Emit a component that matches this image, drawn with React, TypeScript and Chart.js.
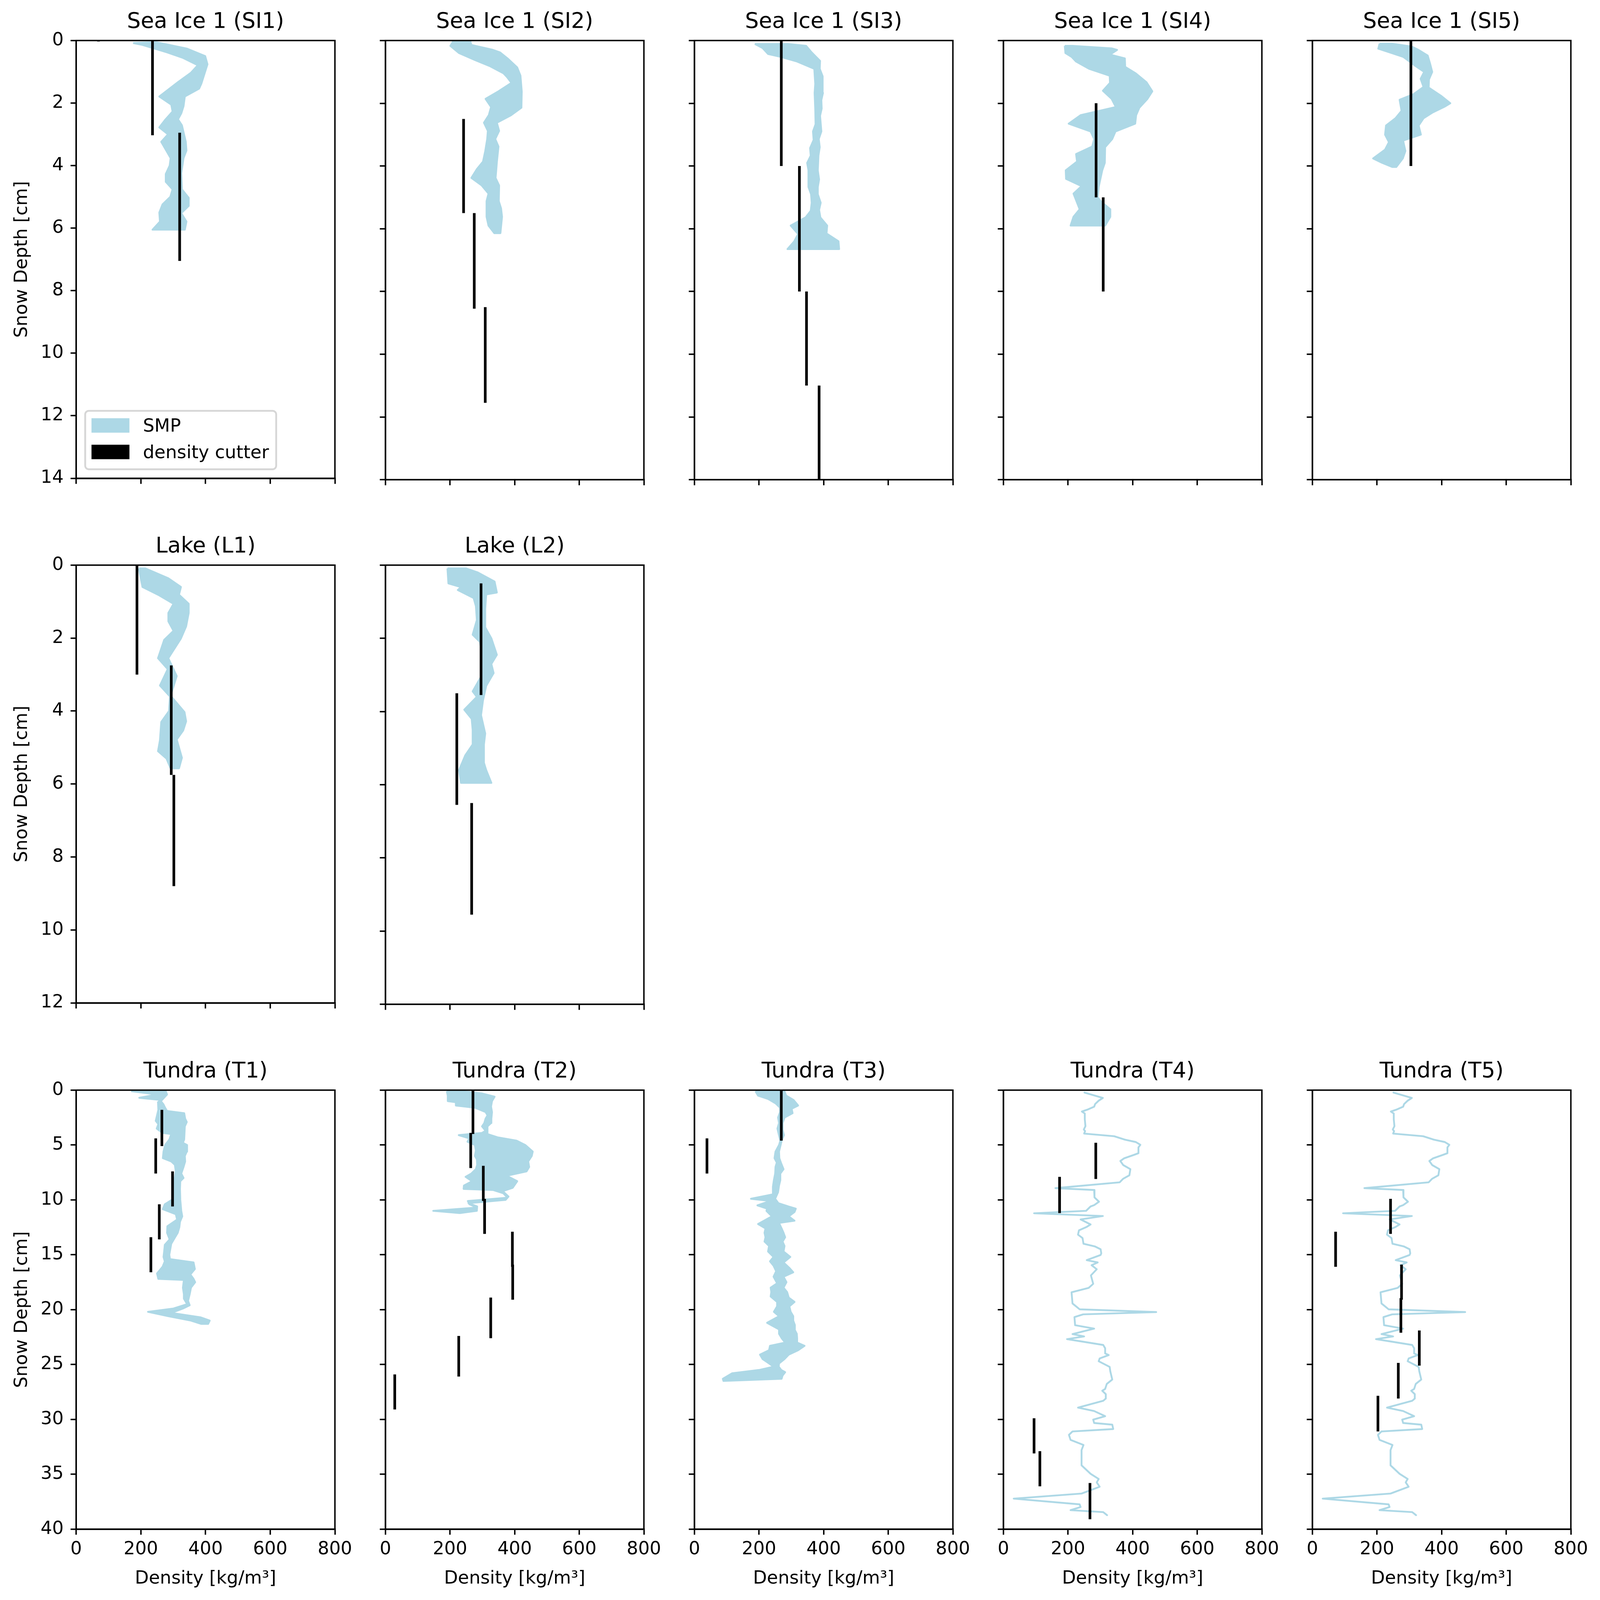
import React, { useEffect, useRef } from "react";
import { Chart, registerables } from "chart.js";

Chart.register(...registerables);

// ---------------- data (depth [cm], density [kg/m3]) ----------------
// SMP envelope: left (min) and right (max) edges
const SI1_MIN = [[0.08,176],[0.14,205],[0.38,281],[0.55,329],[0.79,376],[1.03,355],[1.33,315],[1.79,257],[2.05,294],[2.27,298],[2.55,274],[2.78,257],[3.0,284],[3.24,263],[3.76,292],[4.0,289],[4.27,277],[4.52,277],[4.76,298],[5.0,291],[5.24,267],[5.5,257],[5.79,259],[6.05,236]];
const SI1_MAX = [[0.05,246],[0.26,343],[0.5,399],[0.76,406],[1.38,387],[1.54,380],[1.79,336],[2.1,332],[2.33,325],[2.52,315],[2.71,327],[3.24,339],[3.52,341],[3.76,332],[4.24,325],[4.76,327],[5.03,348],[5.29,348],[5.52,325],[5.79,341],[6.05,336]];
const SI1_CUT = [[69,0,0.03],[236,0,3.03],[320,2.95,7.05]];

const SI2_MIN = [[0.02,210],[0.17,201],[0.4,228],[0.62,277],[0.81,322],[1.05,366],[1.16,376],[1.35,390],[1.62,350],[1.86,310],[2.12,327],[2.38,320],[2.62,305],[2.88,317],[3.14,315],[3.52,309],[3.86,302],[4.1,283],[4.38,266],[4.62,298],[4.88,319],[5.12,313],[5.62,313],[5.9,319],[6.14,337]];
const SI2_MAX = [[0.02,263],[0.14,266],[0.29,330],[0.38,355],[0.57,378],[0.86,408],[1.12,418],[1.62,422],[2.14,421],[2.38,389],[2.62,345],[2.88,352],[3.14,340],[3.38,350],[3.88,345],[4.14,343],[4.38,341],[4.62,352],[5.12,351],[5.35,358],[5.62,361],[6.14,356]];
const SI2_CUT = [[242,2.5,5.5],[275,5.5,8.55],[309,8.5,11.55]];

const SI3_MIN = [[0.11,187],[0.24,211],[0.43,228],[0.52,267],[0.67,318],[0.9,371],[1.38,374],[1.67,372],[2.19,374],[2.67,375],[2.9,367],[3.17,369],[3.43,358],[3.67,360],[3.9,349],[4.14,353],[4.67,353],[4.9,361],[5.17,363],[5.43,360],[5.64,344],[5.9,298],[6.17,321],[6.4,309],[6.65,288]];
const SI3_MAX = [[0.11,290],[0.17,346],[0.38,363],[0.65,389],[0.9,388],[1.14,397],[1.67,398],[1.9,393],[2.17,394],[2.4,389],[2.9,393],[3.14,385],[3.4,388],[3.67,384],[4.14,382],[4.43,386],[4.67,382],[4.9,382],[5.17,391],[5.4,386],[5.64,390],[5.9,411],[6.15,409],[6.4,446],[6.65,448]];
const SI3_CUT = [[269,0,4],[325,4,8],[347,8,11],[386,11,14]];

const SI4_MIN = [[0.17,190],[0.4,192],[0.52,211],[0.67,225],[0.9,265],[1.12,329],[1.35,330],[1.6,308],[1.86,335],[2.12,348],[2.38,239],[2.65,202],[2.9,270],[3.14,281],[3.38,275],[3.62,225],[3.86,228],[4.14,193],[4.41,194],[4.64,242],[4.88,217],[5.38,236],[5.62,217],[5.9,208]];
const SI4_MAX = [[0.17,214],[0.25,335],[0.3,352],[0.45,330],[0.57,376],[0.84,377],[1.05,410],[1.33,443],[1.62,461],[1.86,446],[2.14,421],[2.38,411],[2.65,408],[2.9,347],[3.14,337],[3.4,315],[3.9,314],[4.14,306],[4.67,295],[5.0,292],[5.14,303],[5.38,331],[5.62,331],[5.9,315]];
const SI4_CUT = [[287,2,5],[309,5,8]];

const SI5_MIN = [[0.1,208],[0.26,204],[0.38,240],[0.52,281],[0.67,301],[0.81,319],[1.0,346],[1.22,335],[1.48,344],[1.71,313],[1.89,270],[2.24,276],[2.48,257],[2.71,228],[3.0,225],[3.24,237],[3.48,225],[3.76,188],[3.9,216],[4.03,247]];
const SI5_MAX = [[0.1,246],[0.19,307],[0.29,327],[0.48,357],[0.76,365],[1.0,371],[1.24,361],[1.5,360],[1.76,398],[2.0,427],[2.11,409],[2.29,373],[2.48,344],[2.71,329],[3.0,336],[3.19,281],[3.52,288],[3.76,280],[4.03,260]];
const SI5_CUT = [[305,0,4]];

const L1_MIN = [[0.09,194],[0.6,205],[0.83,257],[1.06,301],[1.31,285],[1.54,285],[1.8,301],[2.05,272],[2.55,253],[2.85,283],[3.3,259],[3.6,290],[4.0,287],[4.3,263],[4.8,259],[5.1,253],[5.3,279],[5.57,292]];
const L1_MAX = [[0.09,214],[0.36,285],[0.6,324],[0.81,318],[1.06,348],[1.31,348],[1.68,340],[2.01,324],[2.55,285],[3.04,311],[3.58,292],[4.03,335],[4.28,340],[4.53,331],[4.78,311],[5.28,327],[5.57,318]];
const L1_CUT = [[188,0,3],[294,2.75,5.75],[302,5.75,8.8]];

const L2_MIN = [[0.09,192],[0.5,195],[0.6,234],[0.68,224],[0.9,273],[1.12,280],[1.5,283],[1.9,270],[2.1,293],[2.75,302],[3.05,296],[3.45,270],[3.6,283],[3.95,244],[4.2,267],[4.5,270],[4.9,270],[5.2,247],[5.6,228],[5.95,234]];
const L2_MAX = [[0.09,250],[0.2,286],[0.45,338],[0.75,345],[0.8,312],[1.2,309],[1.7,309],[2.0,328],[2.45,345],[2.7,328],[2.95,335],[3.3,312],[3.7,302],[4.1,296],[4.6,309],[4.9,305],[5.4,305],[5.6,312],[5.95,328]];
const L2_CUT = [[296,0.5,3.55],[221,3.5,6.55],[267,6.5,9.55]];

const T1_MIN = [[0.1,170],[0.4,250],[0.7,195],[0.9,262],[1.1,253],[1.8,254],[2.8,246],[3.1,254],[3.5,249],[3.9,267],[4.0,294],[4.5,288],[5.0,275],[5.6,270],[6.2,268],[6.5,294],[6.8,305],[7.4,308],[8.7,301],[9.9,301],[10.4,274],[10.85,268],[11.3,308],[11.8,312],[12.4,282],[13.0,281],[13.6,289],[14.1,274],[14.7,272],[15.2,270],[15.6,274],[16.1,267],[16.7,250],[17.2,254],[17.3,333],[18.0,330],[18.6,333],[19.0,333],[19.5,343],[19.9,301],[20.2,222],[20.6,285],[21.0,355],[21.3,387]];
const T1_MAX = [[0.1,277],[0.4,281],[1.0,262],[1.3,270],[1.6,275],[1.9,281],[2.1,334],[2.6,337],[2.9,342],[3.3,336],[4.5,334],[4.8,330],[5.0,343],[5.6,342],[6.0,336],[6.5,337],[7.0,332],[7.6,325],[8.0,332],[8.3,322],[9.0,321],[10.0,322],[11.0,325],[11.5,328],[12.0,321],[12.5,319],[13.0,314],[13.3,308],[14.0,294],[14.5,291],[15.0,288],[15.4,290],[15.7,363],[16.3,367],[16.8,353],[17.2,363],[17.5,368],[18.0,355],[18.6,351],[19.2,346],[19.6,351],[19.9,330],[20.3,294],[20.7,384],[21.0,413],[21.3,408]];
const T1_CUT = [[265,1.8,5.1],[246,4.4,7.6],[298,7.4,10.6],[257,10.4,13.6],[231,13.4,16.6]];

const T2_MIN = [[0.1,190],[0.5,193],[1.0,193],[1.1,218],[1.4,218],[1.6,277],[2.0,310],[2.3,316],[2.6,310],[3.0,306],[3.3,299],[3.7,310],[3.9,299],[4.1,227],[4.4,260],[4.7,254],[5.0,277],[5.5,280],[6.0,277],[6.3,283],[6.8,284],[7.2,280],[7.6,266],[7.9,248],[8.3,268],[8.7,243],[9.0,242],[9.1,333],[9.4,365],[9.8,378],[10.1,255],[10.4,260],[10.7,283],[11.0,148],[11.2,229]];
const T2_MAX = [[0.1,238],[0.3,299],[0.6,338],[1.0,330],[1.5,327],[2.0,330],[2.6,328],[3.0,327],[3.3,316],[4.0,316],[4.3,347],[4.6,406],[5.0,433],[5.6,456],[6.0,453],[6.5,442],[7.0,445],[7.4,437],[7.8,375],[8.3,408],[8.9,394],[9.2,363],[9.7,381],[10.0,372],[10.3,257],[10.6,284],[11.0,283],[11.2,231]];
const T2_CUT = [[271,0,4],[264,3.9,7.1],[303,6.9,10.1],[307,9.9,13.1],[393,12.9,16.1],[394,15.9,19.1],[326,18.9,22.6],[227,22.4,26.1],[29,25.9,29.1]];

const T3_MIN = [[0.1,189],[0.5,197],[0.8,228],[1.2,251],[1.6,265],[2.0,265],[2.5,259],[3.0,262],[3.5,257],[4.0,261],[4.6,266],[5.0,262],[5.6,251],[6.2,248],[6.6,255],[7.0,251],[7.6,250],[8.2,246],[8.8,243],[9.5,243],[9.9,175],[10.1,235],[10.5,195],[10.8,225],[11.0,223],[11.5,240],[12.2,197],[12.6,220],[13.0,217],[13.4,220],[13.8,217],[14.2,231],[14.7,228],[15.2,245],[15.6,234],[16.0,245],[16.5,253],[17.0,245],[17.6,256],[18.0,236],[18.4,238],[18.8,236],[19.3,256],[19.7,256],[20.2,246],[20.6,262],[21.2,225],[21.8,262],[22.2,262],[22.6,270],[23.0,281],[23.3,234],[23.7,231],[24.1,203],[24.5,211],[24.9,231],[25.2,245],[25.5,200],[25.8,117],[26.3,88],[26.5,90]];
const T3_MAX = [[0.1,279],[0.5,284],[0.9,307],[1.4,321],[1.7,301],[2.1,304],[2.5,279],[3.0,273],[3.6,273],[4.1,277],[4.6,270],[5.0,267],[5.6,262],[6.2,263],[6.7,269],[7.2,276],[7.6,266],[8.2,266],[8.7,262],[9.3,259],[9.9,250],[10.3,260],[10.6,291],[10.8,314],[11.1,310],[11.5,292],[11.9,310],[12.1,262],[12.6,270],[13.0,276],[13.4,281],[13.8,273],[14.2,279],[14.7,276],[15.2,297],[15.7,276],[16.2,294],[16.6,306],[17.0,276],[17.5,285],[18.0,276],[18.4,287],[18.9,292],[19.3,310],[19.7,294],[20.2,298],[20.6,306],[21.0,306],[21.4,311],[21.8,310],[22.2,317],[22.6,318],[23.0,318],[23.3,341],[23.7,321],[24.1,292],[24.5,279],[24.9,262],[25.2,261],[25.5,269],[25.7,281],[26.0,273],[26.3,270]];
const T3_CUT = [[269,0,4.6],[39,4.4,7.6]];

// T4 / T5: SMP drawn as a single profile line
const T4_SMP = [[0.22,251],[0.71,308],[0.96,295],[1.27,284],[1.51,281],[1.79,259],[1.95,243],[2.13,252],[2.66,252],[3.28,254],[3.59,249],[3.74,253],[3.96,250],[4.2,343],[4.51,376],[4.73,410],[4.98,424],[5.22,418],[5.75,418],[5.9,404],[6.21,374],[6.46,362],[6.83,371],[7.2,393],[7.76,390],[8.07,371],[8.4,360],[8.93,161],[9.1,281],[9.77,282],[10.17,296],[10.48,281],[10.6,270],[11.0,256],[11.22,95],[11.47,308],[11.78,239],[12.24,270],[12.46,258],[12.77,234],[13.17,231],[13.48,245],[14.0,248],[14.25,284],[14.5,301],[14.87,303],[15.02,301],[15.49,258],[15.7,292],[15.95,273],[16.32,289],[16.88,271],[17.65,278],[18.02,264],[18.42,211],[19.44,214],[19.97,236],[20.22,473],[20.43,247],[20.68,220],[21.42,222],[21.73,281],[22.23,214],[22.44,250],[22.69,197],[22.9,242],[23.22,309],[23.52,315],[23.99,315],[24.14,326],[24.45,298],[24.7,295],[25.22,329],[25.63,331],[26.37,337],[26.77,320],[27.23,315],[27.39,306],[27.7,317],[28.1,317],[28.31,309],[28.93,231],[29.24,281],[29.71,315],[30.02,278],[30.33,281],[30.48,337],[30.88,340],[31.1,214],[31.41,203],[31.87,208],[32.33,248],[32.8,242],[34.19,242],[34.96,270],[35.43,295],[35.74,289],[36.14,298],[36.76,242],[37.22,32],[37.74,236],[37.99,239],[38.27,208],[38.45,309],[38.73,321]];
const T4_CUT = [[286,4.8,8.1],[174,7.9,11.2],[95,29.9,33.1],[113,32.9,36.1],[268,35.8,39.1]];

// the reference shows the identical SMP profile in T5
const T5_SMP = T4_SMP;
const T5_CUT = [[242,9.9,13.1],[72,12.9,16.1],[276,15.9,19.1],[274,18.95,22.1],[331,21.9,25.1],[266,24.85,28.1],[203,27.85,31.1]];

const X_TICKS = [0, 200, 400, 600, 800];
const LEGEND_LABELS = ["SMP", "density cutter"];

// ---------------- viewport fit (reference is 4979 x 4875) ----------------
const REF_W = 4979;
const REF_H = 4875;
function viewportScale() {
  if (typeof window === "undefined") return { sx: 1, sy: 1 };
  const w = window.innerWidth || REF_W;
  const h = window.innerHeight || REF_H;
  return { sx: Math.min(1, w / REF_W), sy: Math.min(1, h / REF_H) };
}
const { sx: SX, sy: SY } = viewportScale();
const SF = (SX + SY) / 2;

// ---------------- style / layout ----------------
const LIGHTBLUE = "#add8e6";
const FONT = "'DejaVu Sans', 'Liberation Sans', sans-serif";
const FS = 55.6 * SF;
const TITLE_FS = 66.7 * SF;
const SPINE = 4.4 * SF;
const TICK_LEN = 17.2 * SF;
const CUT_LW = 8.3 * SX;
const EDGE_LW = 5.6 * SF;

const COL_LEFT = [237, 1199, 2161, 3122, 4084].map((v) => v * SX);
const ROW_TOP = [124, 1722, 3321].map((v) => v * SY);
const AX_W = 805 * SX;
const AX_H = 1338 * SY;

type Pair = number[];
interface PanelSpec {
  title: string; row: number; col: number; yMax: number; yStep: number;
  minE?: Pair[]; maxE?: Pair[]; line?: Pair[]; cutters: Pair[]; legend?: boolean;
}

const PANELS: PanelSpec[] = [
  { title: "Sea Ice 1 (SI1)", row: 0, col: 0, yMax: 14, yStep: 2, minE: SI1_MIN, maxE: SI1_MAX, cutters: SI1_CUT, legend: true },
  { title: "Sea Ice 1 (SI2)", row: 0, col: 1, yMax: 14, yStep: 2, minE: SI2_MIN, maxE: SI2_MAX, cutters: SI2_CUT },
  { title: "Sea Ice 1 (SI3)", row: 0, col: 2, yMax: 14, yStep: 2, minE: SI3_MIN, maxE: SI3_MAX, cutters: SI3_CUT },
  { title: "Sea Ice 1 (SI4)", row: 0, col: 3, yMax: 14, yStep: 2, minE: SI4_MIN, maxE: SI4_MAX, cutters: SI4_CUT },
  { title: "Sea Ice 1 (SI5)", row: 0, col: 4, yMax: 14, yStep: 2, minE: SI5_MIN, maxE: SI5_MAX, cutters: SI5_CUT },
  { title: "Lake (L1)", row: 1, col: 0, yMax: 12, yStep: 2, minE: L1_MIN, maxE: L1_MAX, cutters: L1_CUT },
  { title: "Lake (L2)", row: 1, col: 1, yMax: 12, yStep: 2, minE: L2_MIN, maxE: L2_MAX, cutters: L2_CUT },
  { title: "Tundra (T1)", row: 2, col: 0, yMax: 40, yStep: 5, minE: T1_MIN, maxE: T1_MAX, cutters: T1_CUT },
  { title: "Tundra (T2)", row: 2, col: 1, yMax: 40, yStep: 5, minE: T2_MIN, maxE: T2_MAX, cutters: T2_CUT },
  { title: "Tundra (T3)", row: 2, col: 2, yMax: 40, yStep: 5, minE: T3_MIN, maxE: T3_MAX, cutters: T3_CUT },
  { title: "Tundra (T4)", row: 2, col: 3, yMax: 40, yStep: 5, line: T4_SMP, cutters: T4_CUT },
  { title: "Tundra (T5)", row: 2, col: 4, yMax: 40, yStep: 5, line: T5_SMP, cutters: T5_CUT },
];

const PAD_T = 10 * SY;
const TITLE_PAD_B = 16.4 * SY;
const TITLE_H = TITLE_FS * 1.2 + TITLE_PAD_B;
const PAD_R = 70 * SX;

function geometry(p: PanelSpec) {
  const firstCol = p.col === 0;
  const bottom = p.row === 2;
  const wy = (firstCol ? 237 : 70) * SX;
  const hx = (bottom ? 200 : 30) * SY;
  const padB = (bottom ? 10 : 20) * SY;
  const width = wy + AX_W + PAD_R;
  const height = PAD_T + TITLE_H + AX_H + hx + padB;
  const left = COL_LEFT[p.col] - wy;
  const top = ROW_TOP[p.row] - PAD_T - TITLE_H;
  return { firstCol, bottom, wy, hx, padB, width, height, left, top };
}

const framePlugin = {
  id: "mplFrame",
  afterDraw(chart: any) {
    const { ctx, chartArea } = chart;
    const { left, top, right, bottom } = chartArea;
    ctx.save();
    ctx.strokeStyle = "#000";
    ctx.lineWidth = SPINE;
    ctx.lineJoin = "miter";
    ctx.strokeRect(left, top, right - left, bottom - top);
    ctx.restore();
  },
};

function roundRectPath(ctx: CanvasRenderingContext2D, x: number, y: number, w: number, h: number, r: number) {
  ctx.beginPath();
  ctx.moveTo(x + r, y);
  ctx.lineTo(x + w - r, y);
  ctx.arcTo(x + w, y, x + w, y + r, r);
  ctx.lineTo(x + w, y + h - r);
  ctx.arcTo(x + w, y + h, x + w - r, y + h, r);
  ctx.lineTo(x + r, y + h);
  ctx.arcTo(x, y + h, x, y + h - r, r);
  ctx.lineTo(x, y + r);
  ctx.arcTo(x, y, x + r, y, r);
  ctx.closePath();
}

// matplotlib-style legend drawn inside the axes (lower left)
const legendPlugin = {
  id: "mplLegend",
  afterDraw(chart: any, _args: any, opts: any) {
    if (!opts || !opts.show) return;
    const { ctx, chartArea } = chart;
    const pad = 0.4 * FS;
    const hl = 2.0 * FS;
    const hh = 0.7 * FS;
    const htp = 0.8 * FS;
    const lineH = 0.968 * FS;
    const spacing = 0.5 * FS;
    const asc = 0.76 * FS;
    ctx.save();
    ctx.font = `${FS}px ${FONT}`;
    const textW = Math.max(...LEGEND_LABELS.map((t) => ctx.measureText(t).width));
    const fw = pad * 2 + hl + htp + textW;
    const fh = pad * 2 + lineH * 2 + spacing;
    const fx = chartArea.left + 0.5 * FS;
    const fy = chartArea.bottom - 0.5 * FS - fh;
    roundRectPath(ctx, fx, fy, fw, fh, 0.2 * FS);
    ctx.fillStyle = "rgba(255,255,255,0.8)";
    ctx.fill();
    ctx.lineWidth = EDGE_LW;
    ctx.strokeStyle = "rgba(204,204,204,0.8)";
    ctx.stroke();
    const colors = [LIGHTBLUE, "#000000"];
    LEGEND_LABELS.forEach((label, i) => {
      const rowTop = fy + pad + i * (lineH + spacing);
      const base = rowTop + asc;
      const hx = fx + pad;
      ctx.fillStyle = colors[i];
      ctx.strokeStyle = colors[i];
      ctx.lineWidth = EDGE_LW;
      ctx.fillRect(hx, base - hh, hl, hh);
      ctx.strokeRect(hx, base - hh, hl, hh);
      ctx.fillStyle = "#000";
      ctx.textBaseline = "alphabetic";
      ctx.textAlign = "left";
      ctx.fillText(label, hx + hl + htp, base);
    });
    ctx.restore();
  },
};

function toPts(arr: Pair[]) {
  return arr.map(([d, v]) => ({ x: v, y: d }));
}

function bandPolygon(minE: Pair[], maxE: Pair[]) {
  const pts = toPts(minE);
  for (let i = maxE.length - 1; i >= 0; i--) pts.push({ x: maxE[i][1], y: maxE[i][0] });
  pts.push({ ...pts[0] });
  return pts;
}

function buildConfig(p: PanelSpec): any {
  const g = geometry(p);
  const datasets: any[] = [];
  if (p.minE && p.maxE) {
    datasets.push({
      label: LEGEND_LABELS[0],
      data: bandPolygon(p.minE, p.maxE),
      showLine: true,
      fill: "shape",
      backgroundColor: LIGHTBLUE,
      borderColor: LIGHTBLUE,
      borderWidth: EDGE_LW,
      borderJoinStyle: "round",
      pointRadius: 0,
      tension: 0,
      clip: 0,
      order: 2,
    });
  }
  if (p.line) {
    datasets.push({
      label: LEGEND_LABELS[0],
      data: toPts(p.line),
      showLine: true,
      fill: false,
      borderColor: LIGHTBLUE,
      backgroundColor: LIGHTBLUE,
      borderWidth: EDGE_LW,
      borderJoinStyle: "round",
      borderCapStyle: "round",
      pointRadius: 0,
      tension: 0,
      clip: 0,
      order: 2,
    });
  }
  p.cutters.forEach(([v, t, b]) => {
    datasets.push({
      label: LEGEND_LABELS[1],
      data: [{ x: v, y: t }, { x: v, y: b }],
      showLine: true,
      fill: false,
      borderColor: "#000",
      backgroundColor: "#000",
      borderWidth: CUT_LW,
      borderCapStyle: "butt",
      pointRadius: 0,
      clip: 0,
      order: 1,
    });
  });

  const tickFont = { family: FONT, size: FS, weight: "normal" as const };
  const gridOpts = {
    display: true,
    drawOnChartArea: false,
    drawTicks: true,
    tickLength: TICK_LEN,
    tickWidth: SPINE,
    tickColor: "#000",
    color: "#000",
    lineWidth: SPINE,
  };
  const borderOpts = { display: true, color: "#000", width: SPINE };

  return {
    type: "scatter",
    data: { datasets },
    plugins: [framePlugin, legendPlugin],
    options: {
      animation: false,
      responsive: false,
      maintainAspectRatio: false,
      events: [],
      layout: { padding: { left: 0, right: PAD_R, top: PAD_T, bottom: g.padB } },
      plugins: {
        legend: { display: false },
        tooltip: { enabled: false },
        title: {
          display: true,
          text: p.title,
          fullSize: false,
          color: "#000",
          font: { family: FONT, size: TITLE_FS, weight: "normal", lineHeight: 1.2 },
          padding: { top: 0, bottom: TITLE_PAD_B },
        },
        mplLegend: { show: !!p.legend },
      },
      scales: {
        x: {
          type: "linear",
          position: "bottom",
          min: X_TICKS[0],
          max: X_TICKS[X_TICKS.length - 1],
          afterBuildTicks: (s: any) => { s.ticks = X_TICKS.map((v) => ({ value: v })); },
          ticks: {
            display: g.bottom,
            font: tickFont,
            color: "#000",
            padding: 12.2 * SY,
            maxRotation: 0,
            minRotation: 0,
            autoSkip: false,
          },
          grid: gridOpts,
          border: borderOpts,
          title: {
            display: g.bottom,
            text: "Density [kg/m³]",
            color: "#000",
            font: { family: FONT, size: FS, weight: "normal", lineHeight: 1.2 },
            padding: { top: 0, bottom: 15.8 * SY },
          },
          afterFit: (s: any) => { s.height = g.hx; },
        },
        y: {
          type: "linear",
          position: "left",
          reverse: true,
          min: 0,
          max: p.yMax,
          ticks: {
            stepSize: p.yStep,
            display: g.firstCol,
            font: tickFont,
            color: "#000",
            padding: 21.7 * SX,
            autoSkip: false,
          },
          grid: gridOpts,
          border: borderOpts,
          title: {
            display: g.firstCol,
            text: "Snow Depth [cm]",
            color: "#000",
            font: { family: FONT, size: FS, weight: "normal", lineHeight: 1.2 },
            padding: { top: 35.4 * SX, bottom: 0 },
          },
          afterFit: (s: any) => { s.width = g.wy; },
        },
      },
    },
  };
}

function Panel({ spec }: { spec: PanelSpec }) {
  const ref = useRef<HTMLCanvasElement | null>(null);
  const g = geometry(spec);
  useEffect(() => {
    if (!ref.current) return;
    const chart = new Chart(ref.current, buildConfig(spec));
    return () => chart.destroy();
  }, [spec]);
  return (
    <canvas
      ref={ref}
      width={Math.round(g.width)}
      height={Math.round(g.height)}
      style={{
        position: "absolute",
        left: Math.round(g.left),
        top: Math.round(g.top),
        width: Math.round(g.width),
        height: Math.round(g.height),
      }}
    />
  );
}

export default function App() {
  return (
    <div
      style={{
        position: "absolute",
        left: 0,
        top: 0,
        width: Math.floor(REF_W * SX),
        height: Math.floor(REF_H * SY),
        background: "#ffffff",
        overflow: "hidden",
      }}
    >
      {PANELS.map((p) => (
        <Panel key={p.title} spec={p} />
      ))}
    </div>
  );
}
